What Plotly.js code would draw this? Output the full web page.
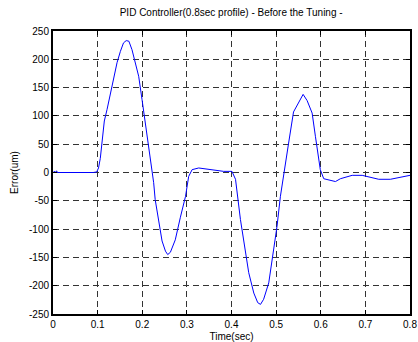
<!DOCTYPE html>
<html>
<head>
<meta charset="utf-8">
<script src="https://cdn.plot.ly/plotly-3.0.1.min.js"></script>
<style>
  html, body { margin: 0; padding: 0; background: #fff; }
  #plot { width: 418px; height: 342px; }
</style>
</head>
<body>
<div id="plot"></div>
<script>
// Position error of the PID loop over the 0.8 s motion profile
const timeSec = [0, 0.004, 0.006, 0.008, 0.010, 0.03, 0.06, 0.09, 0.098, 0.102, 0.106, 0.11, 0.115, 0.121, 0.128,
  0.136, 0.1435, 0.151, 0.158, 0.164, 0.170, 0.177, 0.1845, 0.192, 0.1995, 0.211, 0.218, 0.2256, 0.229,
  0.237, 0.2444, 0.252, 0.257, 0.263, 0.274, 0.2855, 0.297, 0.304, 0.3117, 0.3265, 0.353, 0.3825, 0.401,
  0.409, 0.42, 0.431, 0.4386, 0.45, 0.4588, 0.465, 0.472, 0.4835, 0.4946, 0.502, 0.5096, 0.5208, 0.528,
  0.539, 0.5507, 0.5605, 0.5695, 0.5807, 0.588, 0.599, 0.6067, 0.6217, 0.633, 0.644, 0.6704, 0.6928,
  0.7114, 0.73, 0.756, 0.7787, 0.8];
const errorUm = [0, 2, 0, 3, 0, 0, -1, 0, 1, 8, 25, 52, 91, 111, 138,
  167, 194, 214, 229, 233, 232, 217, 194, 170, 129, 64, 22, -18, -48,
  -83, -121, -139, -145, -141, -119, -79, -42, -7, 5, 8, 5, 2, 2,
  -12, -83, -142, -177, -213, -230, -233, -224, -195, -136, -95, -42, 11, 52,
  107, 123, 138, 127, 105, 64, 5, -11, -14, -16, -11, -5, -5,
  -8, -12, -12, -8, -5];

const xTicks = [0, 0.1, 0.2, 0.3, 0.4, 0.5, 0.6, 0.7, 0.8];
const xTickLabels = ["0", "0.1", "0.2", "0.3", "0.4", "0.5", "0.6", "0.7", "0.8"];
const yTicks = [-250, -200, -150, -100, -50, 0, 50, 100, 150, 200, 250];
const yTickLabels = ["-250", "-200", "-150", "-100", "-50", "0", "50", "100", "150", "200", "250"];

const font = { family: "Liberation Sans, Arial, Helvetica, sans-serif", size: 10, color: "#000" };

const axisCommon = {
  showline: true, linecolor: "#000", linewidth: 2, mirror: "ticks",
  ticks: "inside", ticklen: 4, tickcolor: "#000", tickwidth: 1,
  showgrid: true, gridcolor: "#333", gridwidth: 1, griddash: "6px,4px",
  zeroline: false, tickfont: font
};

const trace = {
  x: timeSec, y: errorUm, type: "scatter", mode: "lines",
  line: { color: "#0000ff", width: 1 }, hoverinfo: "skip"
};

const layout = {
  width: 418, height: 342,
  margin: { l: 53, r: 8, t: 31, b: 28 },
  paper_bgcolor: "#fff", plot_bgcolor: "#fff",
  showlegend: false,
  font: font,
  title: { text: "PID Controller(0.8sec profile) - Before the Tuning -", font: font,
           x: 0.553, xanchor: "center", y: 0.963, yanchor: "middle" },
  xaxis: Object.assign({}, axisCommon, {
    range: [0, 0.8], tickvals: xTicks, ticktext: xTickLabels,
    title: { text: "Time(sec)", font: font, standoff: 6 }
  }),
  yaxis: Object.assign({}, axisCommon, {
    range: [-250, 250], tickvals: yTicks, ticktext: yTickLabels,
    title: { text: "Error(um)", font: font, standoff: 8 }
  })
};

Plotly.newPlot("plot", [trace], layout, { staticPlot: true, displayModeBar: false });
</script>
</body>
</html>
